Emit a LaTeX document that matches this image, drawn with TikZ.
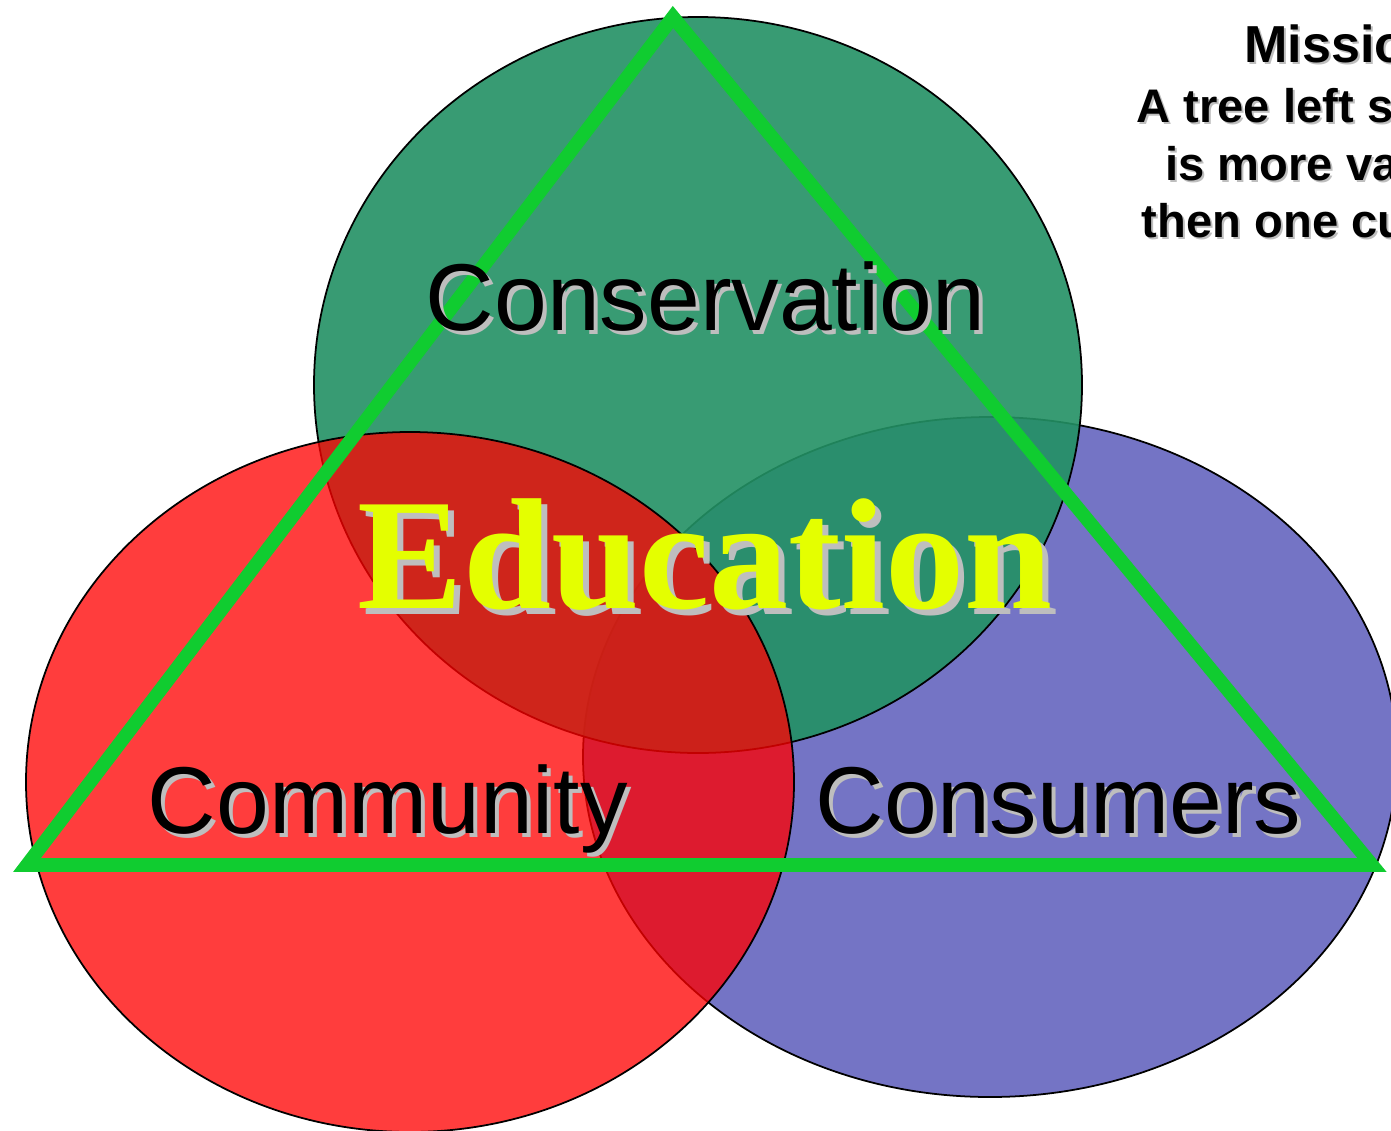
\documentclass[tikz,border=0pt]{standalone}
\usepackage{fontspec}
\setmainfont{Liberation Sans}
\newfontfamily\edufont{Liberation Serif}
\usepackage{xcolor}
\definecolor{circgreen}{RGB}{35,145,100}
\definecolor{circred}{RGB}{255,0,0}
\definecolor{circblue}{RGB}{51,51,170}
\definecolor{trigreen}{RGB}{16,204,48}
\definecolor{eduyellow}{RGB}{228,255,0}
\definecolor{shadowgray}{RGB}{190,190,190}

% text with a soft gray drop shadow: name, x, y, offset, style, text
\newcommand{\shadowlabel}[6]{%
  \node[#5,text=shadowgray] (#1-sh) at (#2+#4,#3+#4) {#6};
  \node[#5] (#1) at (#2,#3) {#6};}

\tikzset{
  circ/.style={draw=black,line width=0.5pt},
  word/.style={anchor=base west,inner sep=0pt,font=\fontsize{27}{32}\selectfont},
  motto/.style={anchor=base,inner sep=0pt,font=\bfseries\fontsize{13.4}{16}\selectfont},
}

\begin{document}
\begin{tikzpicture}[x=0.01cm,y=-0.01cm]
  \useasboundingbox (0,0) rectangle (1391,1130);
  \clip (0,0) rectangle (1391,1130);
  \fill[white] (0,0) rectangle (1391,1130);

  % the three circles, blue at the back
  \draw[circ,fill=circblue,fill opacity=0.68] (990,757) ellipse [x radius=407,y radius=340];
  \draw[circ,fill=circgreen,fill opacity=0.9] (698,385) ellipse [x radius=384,y radius=368];
  \draw[circ,fill=circred,fill opacity=0.76] (410,782) ellipse [x radius=384,y radius=350];

  % triangle on top
  \coordinate (T) at (673,17);
  \coordinate (L) at (27,865);
  \coordinate (R) at (1372,865);
  \draw[trigreen,line width=3.9pt,line join=miter] (T) -- (R) -- (L) -- cycle;

  \shadowlabel{cons}{425}{330}{4}{word}{Conservation}
  \shadowlabel{comm}{147}{833}{4}{word}{Community}
  \shadowlabel{consu}{815}{833}{4}{word}{Consumers}
  \shadowlabel{edu}{357}{608}{6}{anchor=base west,inner sep=0pt,text=eduyellow,font=\edufont\bfseries\fontsize{45}{50}\selectfont}{Education}

  \shadowlabel{mis}{1350}{62}{2}{motto,font=\bfseries\fontsize{14.8}{17}\selectfont}{Mission:}
  \shadowlabel{tree}{1350}{122}{2}{motto}{A tree left standing}
  \shadowlabel{val}{1350}{180}{2}{motto}{is more valuable}
  \shadowlabel{cut}{1350}{237}{2}{motto}{then one cut down}
\end{tikzpicture}
\end{document}
